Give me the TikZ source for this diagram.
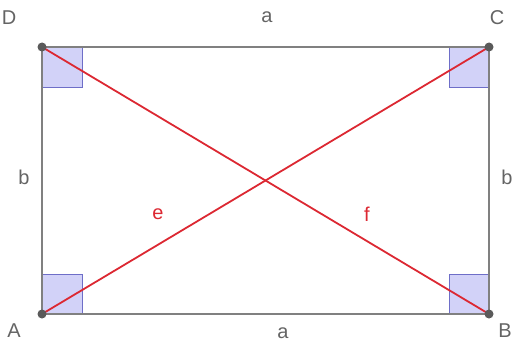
\documentclass[tikz,border=0pt]{standalone}
\usepackage{fontspec}
\setmainfont{Liberation Sans}
\usetikzlibrary{positioning}
\definecolor{edgegray}{RGB}{128,128,128}
\definecolor{diagred}{RGB}{220,40,50}
\definecolor{anglefill}{RGB}{210,210,248}
\definecolor{angledraw}{RGB}{110,110,200}
\definecolor{labelgray}{RGB}{100,100,100}
\tikzset{
  side/.style = {draw=edgegray, line width=2.4pt},
  diag/.style = {draw=diagred, line width=1.8pt},
  rightangle/.style = {fill=anglefill, draw=angledraw, line width=0.9pt},
  pt/.style = {circle, fill=labelgray!90!black, inner sep=0pt, minimum size=9pt},
  lbl/.style = {text=labelgray, font=\fontsize{20}{24}\selectfont},
  dlbl/.style = {text=diagred, font=\fontsize{20}{24}\selectfont}
}

\begin{document}
\begin{tikzpicture}[x=1pt, y=-1pt]
\useasboundingbox (0,0) rectangle (516,345);

% corners
\coordinate (A) at (42,314);
\coordinate (B) at (489,314);
\coordinate (C) at (489,47);
\coordinate (D) at (42,47);

% right angle marks
\draw[rightangle] (A) rectangle ++(40,-40);
\draw[rightangle] (B) rectangle ++(-40,-40);
\draw[rightangle] (C) rectangle ++(-40,40);
\draw[rightangle] (D) rectangle ++(40,40);

% sides
\draw[side] (A) -- (B) -- (C) -- (D) -- cycle;

% diagonals
\draw[diag] (A) -- (C);
\draw[diag] (D) -- (B);

% points
\foreach \p in {A,B,C,D}
  \node[pt] (\p dot) at (\p) {};

% point labels
\node[lbl] (Alab) at (14,331) {A};
\node[lbl] (Blab) at (505,331) {B};
\node[lbl] (Clab) at (497,18) {C};
\node[lbl] (Dlab) at (9,18) {D};

% side labels
\node[lbl] (atop) at (267,17) {a};
\node[lbl] (abot) at (283,333) {a};
\node[lbl] (bleft) at (24,177) {b};
\node[lbl] (bright) at (507,177) {b};

% diagonal labels
\node[dlbl] (elab) at (158,214) {e};
\node[dlbl] (flab) at (367,214) {f};

\end{tikzpicture}
\end{document}
